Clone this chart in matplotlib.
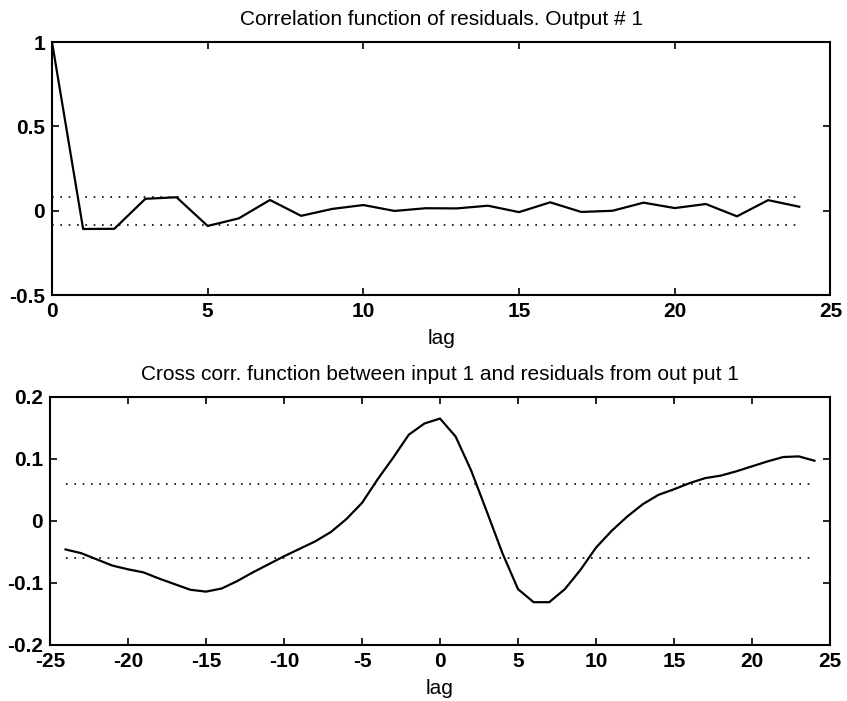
import numpy as np
import matplotlib
matplotlib.use("Agg")
import matplotlib.pyplot as plt

plt.rcParams['font.family'] = ['Liberation Sans', 'DejaVu Sans']
plt.rcParams['axes.unicode_minus'] = False

# autocorrelation of residuals, lags 0..24
acf_lags = list(range(0, 25))
acf_vals = [1.0, -0.108, -0.107, 0.071, 0.080, -0.090, -0.045, 0.064, -0.030,
            0.011, 0.034, -0.001, 0.015, 0.014, 0.030, -0.008, 0.050, -0.007,
            0.000, 0.048, 0.016, 0.040, -0.033, 0.063, 0.024]
acf_conf = 0.083

# cross correlation input 1 / residuals, lags -24..24
ccf_lags = list(range(-24, 25))
ccf_vals = [-0.046, -0.052, -0.062, -0.072, -0.078, -0.083, -0.093, -0.102,
            -0.111, -0.114, -0.109, -0.097, -0.083, -0.070, -0.057, -0.045,
            -0.033, -0.018, 0.003, 0.029, 0.067, 0.102, 0.139, 0.157, 0.165,
            0.136, 0.081, 0.015, -0.052, -0.110, -0.131, -0.131, -0.110,
            -0.079, -0.043, -0.016, 0.007, 0.027, 0.042, 0.051, 0.061, 0.069,
            0.073, 0.080, 0.088, 0.096, 0.103, 0.104, 0.097]
ccf_conf = 0.06

fs = 15

def style(ax):
    ax.tick_params(direction='in', top=True, right=True, length=5, width=1.2,
                   labelsize=fs, pad=5)
    for lab in ax.get_xticklabels() + ax.get_yticklabels():
        lab.set_fontweight('bold')
    for s in ax.spines.values():
        s.set_linewidth(1.5)
    ax.set_xlabel("lag", fontsize=fs, labelpad=6)

fig = plt.figure(figsize=(8.47, 7.01), dpi=100)

ax1 = fig.add_axes([0.0614, 0.579, 0.919, 0.361])
ax1.plot(acf_lags, acf_vals, color='black', lw=1.6)
ax1.plot([acf_lags[0], acf_lags[-1]], [acf_conf, acf_conf], color='black',
         lw=1.2, linestyle=(0, (1, 4)))
ax1.plot([acf_lags[0], acf_lags[-1]], [-acf_conf, -acf_conf], color='black',
         lw=1.2, linestyle=(0, (1, 4)))
ax1.set_xlim(0, 25)
ax1.set_ylim(-0.5, 1)
ax1.set_xticks([0, 5, 10, 15, 20, 25])
ax1.set_yticks([-0.5, 0, 0.5, 1])
ax1.set_yticklabels(['-0.5', '0', '0.5', '1'])
ax1.set_title("Correlation function of residuals. Output # 1", fontsize=fs, pad=12)
style(ax1)

ax2 = fig.add_axes([0.059, 0.0799, 0.921, 0.354])
ax2.plot(ccf_lags, ccf_vals, color='black', lw=1.6)
ax2.plot([ccf_lags[0], ccf_lags[-1]], [ccf_conf, ccf_conf], color='black',
         lw=1.2, linestyle=(0, (1, 4)))
ax2.plot([ccf_lags[0], ccf_lags[-1]], [-ccf_conf, -ccf_conf], color='black',
         lw=1.2, linestyle=(0, (1, 4)))
ax2.set_xlim(-25, 25)
ax2.set_ylim(-0.2, 0.2)
ax2.set_xticks([-25, -20, -15, -10, -5, 0, 5, 10, 15, 20, 25])
ax2.set_yticks([-0.2, -0.1, 0, 0.1, 0.2])
ax2.set_yticklabels(['-0.2', '-0.1', '0', '0.1', '0.2'])
ax2.set_title("Cross corr. function between input 1 and residuals from out put 1",
              fontsize=fs, pad=12)
style(ax2)

fig.savefig("out.png", dpi=100)
